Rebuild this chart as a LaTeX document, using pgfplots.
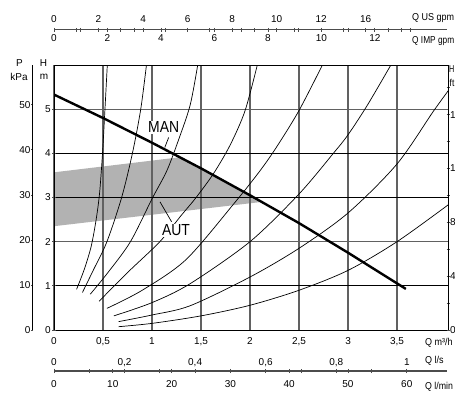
\documentclass[border=0pt]{standalone}
\usepackage{graphicx}
\usepackage{fontspec}
\setmainfont{Liberation Sans}
\usepackage{pgfplots}
\pgfplotsset{compat=1.18}
\newcommand{\tf}{\fontsize{10bp}{12bp}\selectfont}
\newcommand{\lf}{\fontsize{16bp}{18bp}\selectfont}
\pgfplotsset{
  sec/.style={scale only axis, clip=false,
    /pgf/number format/assume math mode=true,
    tick label style={font=\tf, inner sep=0pt},
    tick align=inside,
    tick style={black!70, line width=0.7bp},
    major tick length=4bp, minor tick length=4bp,
  },
  noarrow/.style={every outer x axis line/.append style={-}, every inner x axis line/.append style={-},
    every outer y axis line/.append style={-}, every inner y axis line/.append style={-}},
}
\begin{document}
\begin{tikzpicture}
% ---------------- main chart ----------------
\begin{axis}[scale only axis, at={(54bp,64bp)}, anchor=south west,
  width=394bp, height=265bp, xmin=0, xmax=4.02, ymin=0, ymax=6,
  set layers, clip=true,
  axis line style={black, line width=0.9bp},
  xtick={0,0.5,...,3.5}, xticklabels={0,{0,5},1,{1,5},2,{2,5},3,{3,5}},
  ytick={0,1,3,4}, yticklabels={}, extra y ticks={2,5}, extra y tick labels={},
  extra y tick style={y grid style={black!62, line width=1.3bp}},
  xmajorgrids, ymajorgrids,
  x grid style={black!62, line width=1.3bp},
  y grid style={black, line width=0.8bp},
  major tick length=0pt, tick align=inside,
  xtick pos=bottom, ytick pos=left,
  xticklabel style={font=\tf, inner sep=0pt, anchor=base, yshift=-15bp},
]
% AUT region
\addplot[fill=black!30, draw=none, on layer=axis background] coordinates
  {(0,2.35) (0,3.57) (1.28,3.91) (1.5,3.66) (2,3.05) (2.12,2.9)} -- cycle;
% system curves
\addplot[black, line width=0.7bp, smooth] coordinates
  {(0.23,0.92) (0.31,1.38) (0.38,1.9) (0.43,2.5) (0.465,3.1) (0.495,4.0) (0.52,5.0) (0.545,6.05)};
\addplot[black, line width=0.7bp, smooth] coordinates
  {(0.29,0.85) (0.40,1.35) (0.54,2.0) (0.69,3.0) (0.80,4.0) (0.885,5.0) (0.946,6.05)};
\addplot[black, line width=0.7bp, smooth] coordinates
  {(0.37,0.81) (0.55,1.3) (0.78,2.0) (1.0,2.97) (1.15,3.6) (1.27,4.3) (1.39,5.1) (1.47,6.05)};
\addplot[black, line width=0.7bp, smooth] coordinates
  {(0.46,0.65) (0.75,1.3) (1.08,2.0) (1.3,2.6) (1.45,3.0) (1.63,3.55) (1.8,4.2) (1.95,4.97) (2.08,6.05)};
\addplot[black, line width=0.7bp, smooth] coordinates
  {(0.54,0.49) (0.9,0.9) (1.35,1.6) (1.85,2.9) (2.1,3.6) (2.27,4.14) (2.5,4.97) (2.75,6.05)};
\addplot[black, line width=0.7bp, smooth] coordinates
  {(0.61,0.32) (1.0,0.62) (1.39,1.05) (2.0,2.0) (2.5,3.08) (2.85,4.0) (3.0,4.42) (3.2,5.1) (3.45,6.05)};
\addplot[black, line width=0.7bp, smooth] coordinates
  {(0.66,0.19) (1.0,0.34) (1.39,0.55) (2.0,1.2) (2.5,1.85) (3.0,2.65) (3.5,3.76) (3.87,4.95) (4.05,5.5)};
\addplot[black, line width=0.7bp, smooth] coordinates
  {(0.66,0.075) (1.0,0.15) (1.5,0.32) (2.0,0.56) (2.5,0.9) (3.0,1.35) (3.5,2.0) (4.05,2.88)};
% pump curve
\addplot[black, line width=2.4bp] coordinates
  {(0,5.33) (0.5,4.8) (1,4.24) (1.5,3.66) (2,3.05) (2.5,2.42) (3,1.75) (3.59,0.93)};
% pointer lines
\addplot[black, line width=0.7bp] coordinates {(1.17,4.36) (1.13,4.13)};
\addplot[black, line width=0.7bp] coordinates {(1.082,2.90) (1.2,2.45)};
\node[fill=white, inner sep=1bp, font=\lf] at (axis cs:1.119,4.596) {\scalebox{0.87}[1]{MAN}};
\node[fill=white, inner sep=1bp, font=\lf] at (axis cs:1.245,2.253) {\scalebox{0.87}[1]{AUT}};
\end{axis}

% ---------------- H (m) scale ----------------
\begin{axis}[sec, at={(54bp,64bp)}, anchor=south east, width=10bp, height=265bp,
  xmin=0, xmax=1, ymin=0, ymax=6, hide x axis, axis y line=right, noarrow,
  axis line style={black, line width=0.9bp},
  ytick={0,...,5}, yticklabel style={anchor=east, xshift=-5bp}]
\end{axis}
% ---------------- P (kPa) scale ----------------
\begin{axis}[sec, at={(32bp,64bp)}, anchor=south east, width=10bp, height=265bp,
  xmin=0, xmax=1, ymin=0, ymax=58.84, hide x axis, axis y line=right, noarrow,
  axis line style={black, line width=0.9bp}, major tick length=2.5bp,
  ytick={0,10,...,50}, yticklabel style={anchor=east, xshift=-2.5bp}]
\end{axis}
% ---------------- H (ft) scale ----------------
\begin{axis}[sec, at={(448bp,64bp)}, anchor=south west, width=10bp, height=265bp,
  xmin=0, xmax=1, ymin=0, ymax=19.685, hide x axis, axis y line=left, noarrow,
  axis line style={black, line width=0.9bp}, major tick length=3bp, minor tick length=3bp,
  ytick={0,4,...,16}, minor ytick={2,6,...,18}, yticklabel style={anchor=west, xshift=3.5bp}]
\end{axis}
% ---------------- Q US gpm ----------------
\begin{axis}[sec, at={(54bp,364bp)}, anchor=south west, width=393bp, height=10bp,
  xmin=0, xmax=17.657, ymin=0, ymax=1, hide y axis, axis x line=bottom, noarrow,
  axis line style={black!70, line width=1bp},
  xtick={0,...,16}, xticklabels={0,,2,,4,,6,,8,,10,,12,,16,,},
  xticklabel style={anchor=base, yshift=9.4bp}]
\end{axis}
% ---------------- Q IMP gpm ----------------
\begin{axis}[sec, at={(54bp,364bp)}, anchor=north west, width=393bp, height=10bp,
  xmin=0, xmax=14.70, ymin=0, ymax=1, hide y axis, axis x line=top, noarrow,
  axis line style={black!70, line width=1bp},
  xtick={0,...,13}, xticklabels={0,,2,,4,,6,,8,,10,,12,},
  xticklabel style={anchor=base, yshift=-13.2bp}]
\end{axis}
% ---------------- Q l/s ----------------
\begin{axis}[sec, at={(54bp,23bp)}, anchor=south west, width=393bp, height=10bp,
  xmin=0, xmax=1.11394, ymin=0, ymax=1, hide y axis, axis x line=bottom, noarrow,
  axis line style={black!70, line width=1bp},
  xtick={0,0.1,0.2,0.3,0.4,0.5,0.6,0.7,0.8,0.9,1},
  xticklabels={0,,{0,2},,{0,4},,{0,6},,{0,8},,1},
  xticklabel style={anchor=base, yshift=7.8bp}]
\end{axis}
% ---------------- Q l/min ----------------
\begin{axis}[sec, at={(54bp,23bp)}, anchor=north west, width=393bp, height=10bp,
  xmin=0, xmax=66.84, ymin=0, ymax=1, hide y axis, axis x line=top, noarrow,
  axis line style={black!70, line width=1bp},
  xtick={0,10,...,60},
  xticklabel style={anchor=base, yshift=-18.3bp}]
\end{axis}
% ---------------- unit labels ----------------
\node[font=\tf, anchor=base west, inner sep=0pt] at (412bp,373.4bp) {\scalebox{0.9}[1]{Q US gpm}};
\node[font=\tf, anchor=base west, inner sep=0pt] at (412bp,350.8bp) {\scalebox{0.83}[1]{Q IMP gpm}};
\node[font=\tf, anchor=base west, inner sep=0pt] at (425bp,48.8bp) {\scalebox{0.9}[1]{Q m³/h}};
\node[font=\tf, anchor=base west, inner sep=0pt] at (425bp,30.8bp) {\scalebox{0.9}[1]{Q l/s}};
\node[font=\tf, anchor=base west, inner sep=0pt] at (425bp,4.3bp) {\scalebox{0.88}[1]{Q l/min}};
\node[font=\tf, anchor=base, inner sep=0pt] at (19.5bp,327.4bp) {P};
\node[font=\tf, anchor=base, inner sep=0pt] at (19bp,313.3bp) {kPa};
\node[font=\tf, anchor=base, inner sep=0pt] at (43.5bp,327bp) {H};
\node[font=\tf, anchor=base, inner sep=0pt] at (44bp,314bp) {m};
\node[font=\tf, anchor=base west, inner sep=0pt] at (449bp,321bp) {\scalebox{0.72}[1]{H}};
\node[font=\tf, anchor=base west, inner sep=0pt] at (449.5bp,307.3bp) {\scalebox{0.85}[1]{ft}};
\pgfresetboundingbox
\useasboundingbox (0,0) rectangle (455bp,394bp);
\end{tikzpicture}
\end{document}
